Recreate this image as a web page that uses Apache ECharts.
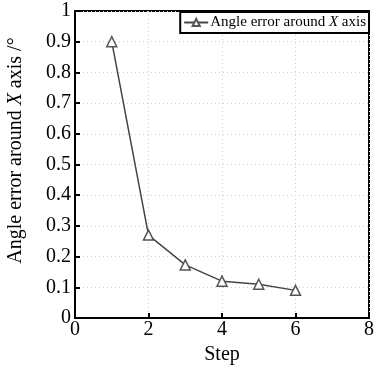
<!DOCTYPE html>
<html><head><meta charset="utf-8">
<script src="https://cdn.jsdelivr.net/npm/echarts@6/dist/echarts.min.js"></script>
<style>html,body{margin:0;padding:0;background:#fff}#c{width:374px;height:371px}</style>
</head><body><div id="c"></div>
<script>
var steps = [1, 2, 3, 4, 5, 6];
var errors = [0.9, 0.27, 0.173, 0.12, 0.11, 0.09];
var xTicks = [0, 2, 4, 6, 8];
var yTicks = [0, 0.1, 0.2, 0.3, 0.4, 0.5, 0.6, 0.7, 0.8, 0.9, 1];
var font = 'Liberation Serif';
var chart = echarts.init(document.getElementById('c'), null, {renderer: 'canvas'});
chart.setOption({
  animation: false,
  backgroundColor: '#fff',
  grid: {left: 75, right: 5, top: 11, bottom: 53, outerBoundsMode: 'none', containLabel: false,
    show: true, borderColor: '#000', borderWidth: 2, backgroundColor: 'transparent'},
  legend: {
    right: 5, top: 12, orient: 'horizontal',
    backgroundColor: '#fff', borderColor: '#000', borderWidth: 2, borderRadius: 0,
    padding: [3, 3, 3, 3], itemWidth: 24, itemHeight: 9, itemGap: 4,
    textStyle: {fontFamily: font, fontSize: 15, color: '#000', padding: [0, 0, 0, -3],
      rich: {a: {fontFamily: font, fontSize: 15, color: '#000'}, i: {fontFamily: font, fontSize: 15, fontStyle: 'italic', color: '#000'}}},
    formatter: function () { return '{a|Angle error around }{i|X}{a| axis}'; }
  },
  xAxis: {
    type: 'value', min: 0, max: 8, interval: 2,
    name: 'Step', nameLocation: 'middle', nameGap: 25,
    nameTextStyle: {fontFamily: font, fontSize: 20, color: '#000'},
    axisLine: {show: true, lineStyle: {color: '#000', width: 2}},
    axisTick: {show: true, inside: true, length: 5, lineStyle: {color: '#000', width: 2}},
    axisLabel: {fontFamily: font, fontSize: 20, color: '#000', margin: 2,
      formatter: function (v) { return xTicks.indexOf(v) >= 0 ? String(v) : ''; }},
    splitLine: {show: true, lineStyle: {color: '#d0d0d0', type: [1, 3], width: 1}}
  },
  yAxis: {
    type: 'value', min: 0, max: 1, interval: 0.1,
    name: '{a|Angle error around }{i|X}{a| axis /°}', nameLocation: 'middle', nameGap: 49, nameRotate: 90,
    nameTextStyle: {fontFamily: font, fontSize: 20, color: '#000', padding: [0, 0, 0, 28],
      rich: {a: {fontFamily: font, fontSize: 20, color: '#000'}, i: {fontFamily: font, fontSize: 20, fontStyle: 'italic', color: '#000'}}},
    axisLine: {show: true, lineStyle: {color: '#000', width: 2}},
    axisTick: {show: true, inside: true, length: 5, lineStyle: {color: '#000', width: 2}},
    axisLabel: {fontFamily: font, fontSize: 20, color: '#000', margin: 4,
      formatter: function (v) { var r = Math.round(v * 10) / 10; return yTicks.indexOf(r) >= 0 ? String(r) : ''; }},
    splitLine: {show: true, lineStyle: {color: '#d0d0d0', type: [1, 3], width: 1}}
  },
  series: [{
    name: 'Angle error around X axis', type: 'line',
    data: steps.map(function (s, i) { return [s, errors[i]]; }),
    symbol: 'triangle', symbolSize: 10,
    lineStyle: {color: '#444', width: 1.5},
    itemStyle: {color: '#fff', borderColor: '#555', borderWidth: 1.5}
  }]
});
</script></body></html>
